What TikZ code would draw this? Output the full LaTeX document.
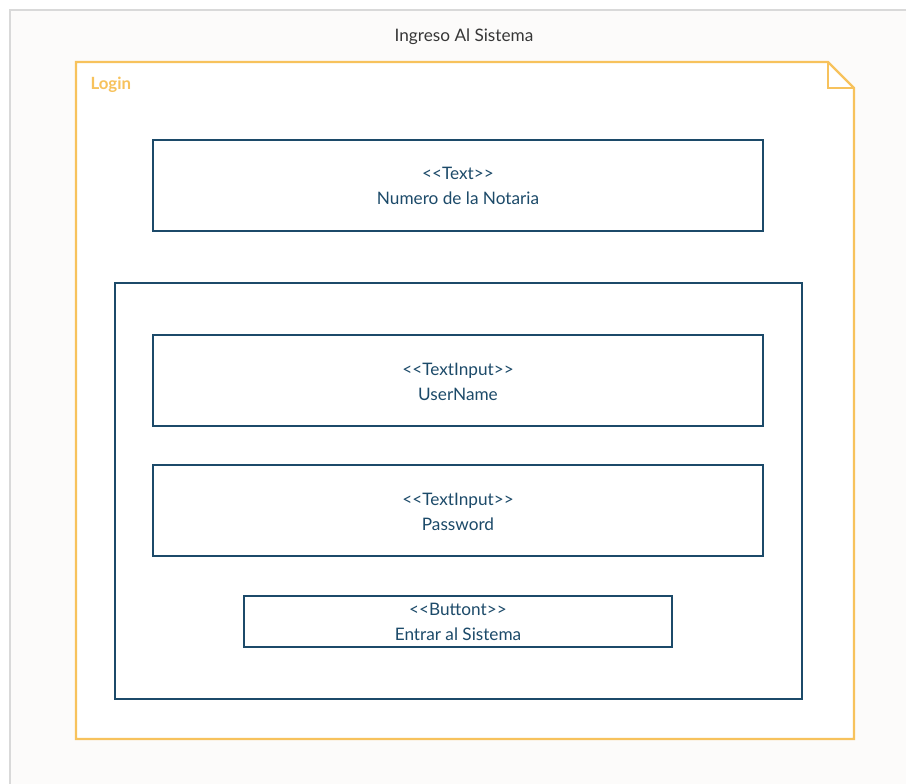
\documentclass[tikz,border=0pt]{standalone}
\usepackage{fontspec}
\setmainfont{Lato}
\definecolor{frameyel}{RGB}{247,194,92}
\definecolor{boxblue}{RGB}{28,74,105}
\definecolor{titlegray}{RGB}{55,55,55}
\definecolor{paper}{RGB}{252,251,250}
\tikzset{every picture/.style={line width=0.75pt}}
\tikzset{uitext/.style={anchor=center,inner sep=0.75pt,font=\fontsize{12.9}{14}\selectfont,text=boxblue,align=center}}

\begin{document}
\begin{tikzpicture}[x=0.75pt,y=0.75pt,yscale=-1,xscale=1]
\useasboundingbox (0,0) rectangle (906,784);

%Shape: Rectangle [id:frame]
\fill [paper] (10,10) rectangle (906,784) ;
\draw [color={rgb, 255:red, 217; green, 217; blue, 217 },line width=1.5] (10,790) -- (10,10) -- (910,10) ;
% Text Node
\draw (464,37) node (title) [anchor=center][inner sep=0.75pt] [font=\fontsize{12.9}{14}\selectfont,text=titlegray] {Ingreso Al Sistema};

%Shape: Note [id:login]
\draw [color=frameyel,fill=white,line width=1.7] (76,62) -- (828,62) -- (854,88) -- (854,739) -- (76,739) -- cycle ;
\draw [color=frameyel,line width=1.7] (828,62) -- (828,88) -- (854,88) ;
% Text Node
\draw (89,85) node (login) [anchor=west][inner sep=0.75pt] [font=\fontsize{12.6}{14}\selectfont\bfseries,text=frameyel] {Login};

%Shape: Rectangle [id:notaria]
\draw [color=boxblue,line width=1.9] (153,140) rectangle (763,231) ;
% Text Node
\draw (458,185.5) node (notaria) [uitext] {<{}<Text>{}>\\[4.75pt]Numero de la Notaria};

%Shape: Rectangle [id:form]
\draw [color=boxblue,line width=1.9] (115,283) rectangle (802,699) ;

%Shape: Rectangle [id:user]
\draw [color=boxblue,line width=1.9] (153,335) rectangle (763,426) ;
% Text Node
\draw (458,381.5) node (user) [uitext] {<{}<TextInput>{}>\\[4.75pt]UserName};

%Shape: Rectangle [id:pass]
\draw [color=boxblue,line width=1.9] (153,465) rectangle (763,556) ;
% Text Node
\draw (458,511.5) node (pass) [uitext] {<{}<TextInput>{}>\\[4.75pt]Password};

%Shape: Rectangle [id:btn]
\draw [color=boxblue,line width=1.9] (244,596) rectangle (672,647) ;
% Text Node
\draw (458,621.5) node (btn) [uitext] {<{}<Buttont>{}>\\[4.75pt]Entrar al Sistema};

\end{tikzpicture}
\end{document}
